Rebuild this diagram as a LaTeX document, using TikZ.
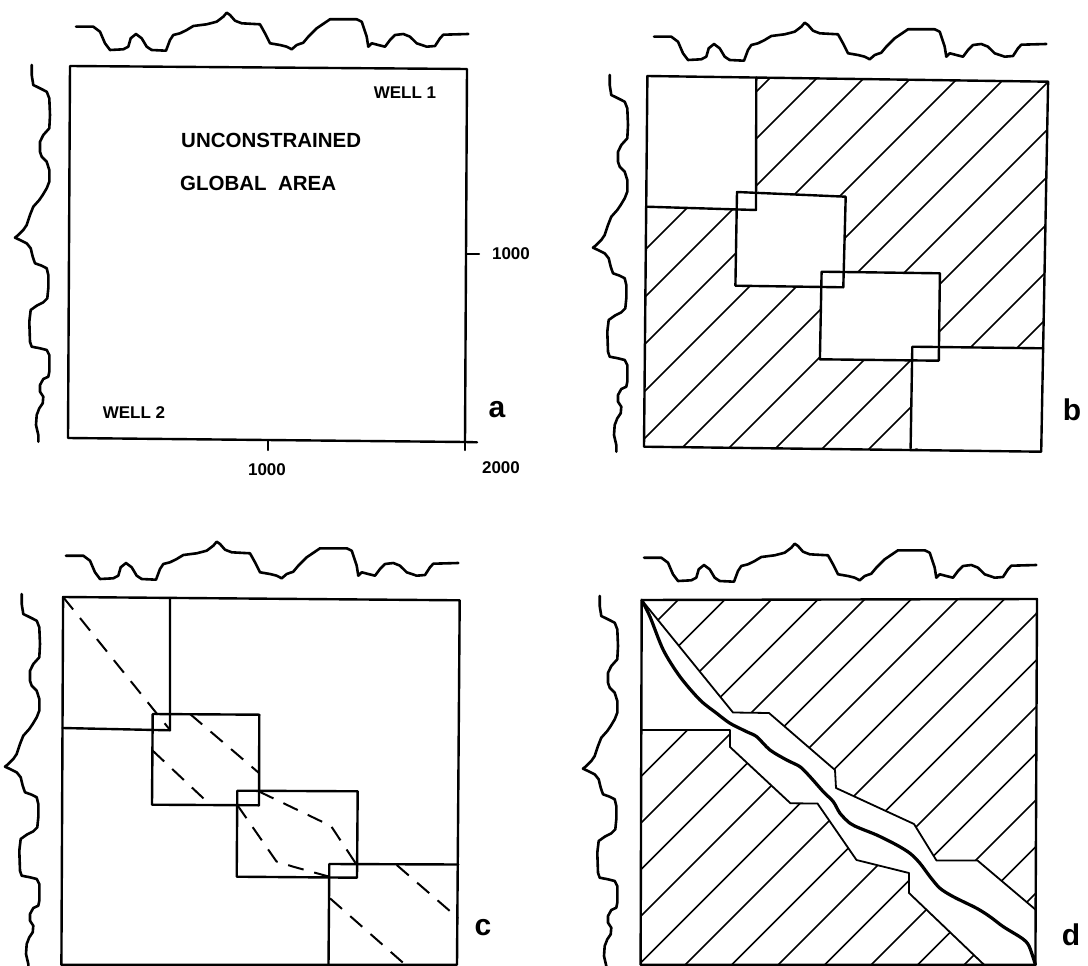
\documentclass[tikz,border=0pt]{standalone}
\usepackage{fontspec}
\newfontfamily\labfont{Liberation Sans}
\newcommand\drawprofiles[2]{%
  \begin{scope}[shift={(#1,#2)}]
    \draw[prof] (76,26.7) -- (93.3,26.7) -- (100,31.7) -- (105,43.3) -- (110,50) -- (123.3,49.3) -- (128.3,46.7) -- (130.7,38.3) -- (136,34) -- (141.7,38.3) -- (146.7,46.7) -- (151.7,50) -- (166,50.7) -- (170,40) -- (173.3,35) -- (180,33.3) -- (186.7,30) -- (193.3,26) -- (206.7,24.3) -- (216.7,21.7) -- (223.3,16.7) -- (226.7,12.7) -- (230,15) -- (235,20.7) -- (241.7,23.3) -- (260,24.3) -- (265,33.3) -- (270,43.3) -- (280,45) -- (286.7,46.7) -- (291.7,49.3) -- (296.7,45) -- (303.3,42.7) -- (308.3,36.7) -- (316.7,28.3) -- (330,19.3) -- (356.7,19.3) -- (361.7,21.7) -- (366.7,36.7) -- (368.3,46.7) -- (371.7,43.3) -- (385,46.7) -- (390,40) -- (395,35) -- (403.3,34) -- (410,36.7) -- (416.7,43.3) -- (426.7,46.7) -- (435,46) -- (440,38.3) -- (443.3,34.7) -- (468.3,34);
    \draw[prof] (31.7,65) -- (31.7,75) -- (33.3,85) -- (40,88.3) -- (46.7,91.7) -- (49.3,98.3) -- (50,115) -- (49.3,128.3) -- (43.3,135) -- (40,141.7) -- (40,151.7) -- (41.7,156.7) -- (46.7,161.7) -- (49.3,170) -- (49.3,181.7) -- (46.7,188.3) -- (42.7,195) -- (39.3,200) -- (33.3,206.7) -- (30,215) -- (26.7,225) -- (23.3,230) -- (18.3,235) -- (15,237.7) -- (20,240) -- (26.7,243.3) -- (30.7,248.3) -- (32.7,256.7) -- (35,263.3) -- (41.7,265.7) -- (46.7,268.3) -- (48.3,275) -- (48.3,288.3) -- (47.3,298.3) -- (43.3,302.3) -- (36.7,305.7) -- (30.7,310) -- (29.3,321.7) -- (30,341.7) -- (31.7,346.7) -- (40,348.3) -- (46.7,350) -- (49.3,355) -- (49.3,371.7) -- (48.3,376.7) -- (43.3,379) -- (40,385) -- (40,391.7) -- (43.3,396.7) -- (42.7,403.3) -- (39.3,408.3) -- (36.7,415) -- (36,425) -- (38.3,435) -- (38.3,441.7);
  \end{scope}}
\begin{document}
\begin{tikzpicture}[x=1pt,y=-1pt, line join=round, line cap=round,
  prof/.style={line width=2.6pt},
  frame/.style={line width=2.4pt},
  thinline/.style={line width=1.8pt},
  hatchline/.style={line width=1.5pt},
  thickcurve/.style={line width=3.2pt},
  dsh/.style={line width=2pt, line cap=butt, dash pattern=on 16pt off 11pt},
  small/.style={font=\labfont\bfseries\fontsize{17}{17}\selectfont, inner sep=0pt},
  big/.style={font=\labfont\bfseries\fontsize{20.5}{20.5}\selectfont, inner sep=0pt, anchor=west},
  plab/.style={font=\labfont\bfseries\fontsize{30}{30}\selectfont, inner sep=0pt}]
\useasboundingbox (0,0) rectangle (1088,966);
\fill[white] (0,0) rectangle (1088,966);

% ---------------- profiles
\drawprofiles{0}{0}
\drawprofiles{578}{10}
\drawprofiles{-10}{529}
\drawprofiles{568}{531}

% ---------------- panel a
\draw[frame] (70,66) -- (467,69) -- (465,442) -- (68,438) -- cycle;
\draw[frame] (465,442) -- (477,442.3);
\draw[frame] (465,442) -- (465,450);
\draw[frame] (268,440.5) -- (268,450);
\draw[frame] (466,254) -- (479,254);
\node[small] (well1) at (405,93) {WELL 1};
\node[big] (uncon) at (181,140) {UNCONSTRAINED};
\node[big] (glob) at (180,183) {GLOBAL\hspace{0.55em}AREA};
\node[small] (well2) at (134,413) {WELL 2};
\node[small] (ya) at (511,254) {1000};
\node[small] (xa) at (267,470) {1000};
\node[small] (xb) at (501,468) {2000};
\node[plab] (la) at (497,410) {a};

% ---------------- panel b
\begin{scope}
  \clip (647.4,76) -- (1048.1,81.7) -- (1041.2,451.7) -- (644,446.7) -- cycle;
  \foreach \k in {-10,...,9} {
    \pgfmathsetmacro\cc{1130+47*\k}
    \draw[hatchline] (\cc-70,70) -- (\cc-460,460);
  }
\end{scope}
\fill[white] (647.4,76) -- (756.3,77.5) -- (756,210) -- (646,206.7) -- cycle;
\fill[white] (737,192) -- (845.7,196.7) -- (843.3,287.3) -- (735.4,285.7) -- cycle;
\fill[white] (821.6,271.7) -- (939.9,273.3) -- (938.8,360.7) -- (819.9,359.3) -- cycle;
\fill[white] (912.3,346.7) -- (1043,348.3) -- (1041.2,451.7) -- (910.6,448.3) -- cycle;
\draw[frame] (756.3,77.5) -- (756,210) -- (646,206.7);
\draw[frame] (737,192) -- (845.7,196.7) -- (843.3,287.3) -- (735.4,285.7) -- cycle;
\draw[frame] (821.6,271.7) -- (939.9,273.3) -- (938.8,360.7) -- (819.9,359.3) -- cycle;
\draw[frame] (910.6,448.3) -- (912.3,346.7) -- (1043,348.3);
\draw[frame] (647.4,76) -- (1048.1,81.7) -- (1041.2,451.7) -- (644,446.7) -- cycle;
\node[plab] (lb) at (1072,410) {b};

% ---------------- panel c
\draw[dsh] (63.1,597) -- (170,730);
\draw[dsh] (190,714) -- (259,773);
\draw[dsh] (152.5,750.5) -- (210.5,805);
\draw[dsh] (259,791.5) -- (331,826) -- (356.5,864.5);
\draw[dsh] (237.3,805) -- (276.5,861.5) -- (293.3,866.7) -- (329.3,876.7);
\draw[dsh] (396.7,865) -- (458.3,918.3);
\draw[dsh] (330,898.3) -- (406.7,966);
\draw[frame] (170,598) -- (170,730.3) -- (62.5,728);
\draw[frame] (152.7,714) -- (259.3,714.7) -- (259,805.3) -- (152,804.7) -- cycle;
\draw[frame] (237.3,790.7) -- (357.7,791.3) -- (357,877.7) -- (236.7,876.7) -- cycle;
\draw[frame] (328.5,966) -- (329.3,864) -- (458.3,864.5);
\draw[frame] (61.4,964.7) -- (63.1,597) -- (459.7,600.3) -- (457,964.7) -- cycle;
\node[plab] (lc) at (483,928) {c};

% ---------------- panel d
\begin{scope}
  \clip (641.7,600) -- (1037,599) -- (1036,910) -- (977.5,860.5) -- (936.5,860.5) -- (914,824) -- (836,788) -- (835,770) -- (769,713) -- (733,712.5) -- cycle;
  \foreach \k in {-10,...,9} {
    \pgfmathsetmacro\cc{1650+46.5*\k}
    \draw[hatchline] (\cc-590,590) -- (\cc-975,975);
  }
\end{scope}
\begin{scope}
  \clip (641.7,730) -- (730,730) -- (730,747) -- (790.5,803.3) -- (817.5,803.5) -- (856.5,860) -- (909,873) -- (909,893) -- (984,964.7) -- (640.6,964.7) -- cycle;
  \foreach \k in {-10,...,9} {
    \pgfmathsetmacro\cc{1650+46.5*\k}
    \draw[hatchline] (\cc-590,590) -- (\cc-975,975);
  }
\end{scope}
\draw[thinline] (641.7,600) -- (733,712.5) -- (769,713) -- (835,770) -- (836,788) -- (914,824) -- (936.5,860.5) -- (977.5,860.5) -- (1036,910);
\draw[thinline] (641.7,730) -- (730,730) -- (730,747) -- (790.5,803.3) -- (817.5,803.5) -- (856.5,860) -- (909,873) -- (909,893) -- (984,964.7);
\draw[thickcurve] plot[smooth, tension=0.5] coordinates {(641.7,600) (650,616.7) (663.3,650) (680,676.7) (700,700) (716.7,713.3) (730,723.3) (746.7,731.7) (756.7,736.7) (770,750) (786.7,760) (800,766.7) (810,776.7) (823.3,791.7) (833.3,801.7) (840,813.3) (850,823.3) (860,828.3) (876.7,835) (896.7,845) (910,853.3) (920,863.3) (930,876.7) (940,888.3) (953.3,896.7) (976.7,908.3) (990,916.7) (1003.3,926.7) (1022,938.3) (1029,946) (1035.4,964.7)};
\draw[frame] (641.7,600) -- (1037,599) -- (1035.4,964.7) -- (640.6,964.7) -- cycle;
\node[plab] (ld) at (1071,935) {d};
\end{tikzpicture}
\end{document}
